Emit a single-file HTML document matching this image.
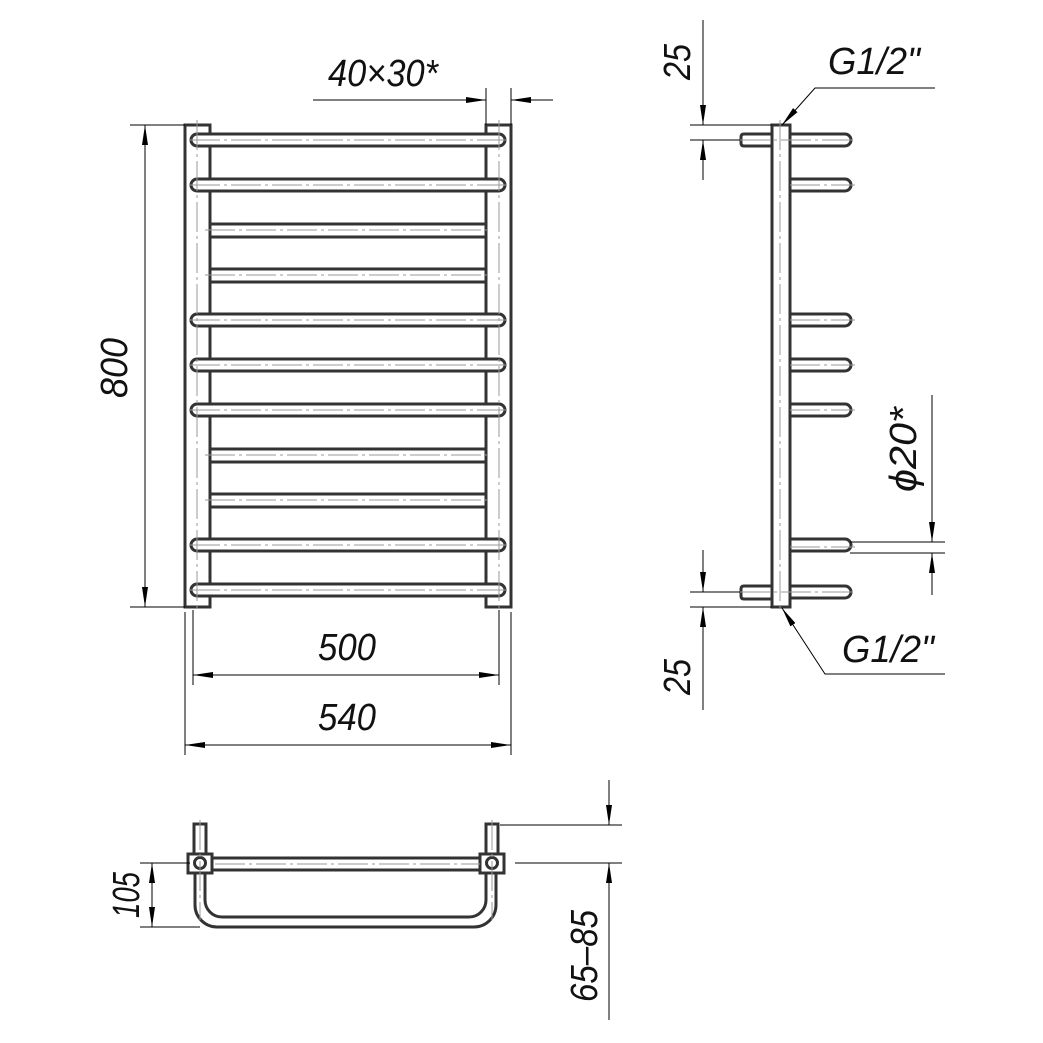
<!DOCTYPE html>
<html><head><meta charset="utf-8"><style>
html,body{margin:0;padding:0;background:#fff}
svg{display:block}
text{font-family:"Liberation Sans",sans-serif;font-style:italic;fill:#111}
</style></head><body>
<svg width="1043" height="1043" viewBox="0 0 1043 1043" xmlns="http://www.w3.org/2000/svg">
<defs>
<marker id="a" viewBox="0 0 20 8" refX="20" refY="4" markerWidth="20" markerHeight="8" markerUnits="userSpaceOnUse" orient="auto-start-reverse"><path d="M0,1 L20,4 L0,7 Z" fill="#000"/></marker>
</defs>
<g fill="none" stroke="#333" stroke-width="3">
<rect x="185" y="125" width="25" height="482"/>
<rect x="486" y="125" width="25" height="482"/>
<g id="fr">
<path d="M197,134 H499 A6,6 0 0 1 499,146 H197 A6,6 0 0 1 197,134 Z" fill="#fff"/>
</g>
<use href="#fr" y="45"/><use href="#fr" y="180"/><use href="#fr" y="225"/><use href="#fr" y="270"/><use href="#fr" y="405"/><use href="#fr" y="450"/>
<path d="M210,224 H486 M210,237 H486 M210,269 H486 M210,282 H486 M210,449 H486 M210,462 H486 M210,494 H486 M210,507 H486"/>
<rect x="772" y="125" width="18" height="482"/>
<path d="M772,134 H744 Q741,134 741,137 V143 Q741,146 744,146 H772 M772,586 H744 Q741,586 741,589 V596 Q741,599 744,599 H772"/>
<g id="sr"><path d="M790,134 H845 A6,6 0 0 1 845,146 H790"/></g>
<use href="#sr" y="45"/><use href="#sr" y="180"/><use href="#sr" y="225"/><use href="#sr" y="270"/><use href="#sr" y="405"/><use href="#sr" y="452"/>
<path d="M194,854 V824 H206 V854 M486,854 V824 H498 V854"/>
<path d="M212,858 H480 M212,870 H480"/>
<rect x="188" y="854" width="24" height="19"/>
<rect x="480" y="854" width="24" height="19"/>
<circle cx="200" cy="863" r="5.5"/>
<circle cx="492" cy="863" r="5.5"/>
<path d="M195,873 V905 A22,22 0 0 0 217,927 H474 A22,22 0 0 0 496,905 V873"/>
<path d="M205,873 V900 A17,17 0 0 0 222,917 H469 A17,17 0 0 0 486,900 V873"/>
</g>
<g stroke="#999" stroke-width="1" fill="none" stroke-dasharray="30,4,3,4">
<path d="M190,140 H506 M190,185 H506 M205,230 H490 M205,275 H490 M190,320 H506 M190,365 H506 M190,410 H506 M205,455 H490 M205,500 H490 M190,545 H506 M190,590 H506"/>
<path d="M197,120 V612 M499,120 V612 M780,120 V612"/>
<path d="M740,140 H855 M740,592 H855 M790,185 H855 M790,320 H855 M790,365 H855 M790,410 H855 M790,547 H855"/>
<path d="M215,864 H480 M200,820 V920 M492,820 V920"/>
</g>
<g stroke="#000" stroke-width="1" fill="none">
<path d="M130,125 H185 M130,607 H185"/>
<path d="M145,125 V607" marker-start="url(#a)" marker-end="url(#a)"/>
<path d="M193,610 V685 M499,610 V685 M185,612 V755 M511,612 V755"/>
<path d="M193,675 H499" marker-start="url(#a)" marker-end="url(#a)"/>
<path d="M185,745 H511" marker-start="url(#a)" marker-end="url(#a)"/>
<path d="M486,88 V125 M511,88 V125"/>
<path d="M313,100 H486" marker-end="url(#a)"/>
<path d="M553,100 H511" marker-end="url(#a)"/>
<path d="M690,125 H772 M690,140 H740"/>
<path d="M703,20 V125" marker-end="url(#a)"/>
<path d="M703,180 V140" marker-end="url(#a)"/>
<path d="M690,592 H740 M690,607 H772"/>
<path d="M703,550 V592" marker-end="url(#a)"/>
<path d="M703,710 V607" marker-end="url(#a)"/>
<path d="M935,88 H815 L782,125" marker-end="url(#a)"/>
<path d="M945,674 H825 L782,608" marker-end="url(#a)"/>
<path d="M850,542 H945 M850,553 H945"/>
<path d="M932,395 V542" marker-end="url(#a)"/>
<path d="M932,595 V553" marker-end="url(#a)"/>
<path d="M140,863 H190 M140,927 H200"/>
<path d="M152,863 V927" marker-start="url(#a)" marker-end="url(#a)"/>
<path d="M500,825 H622 M515,863 H622"/>
<path d="M609,780 V825" marker-end="url(#a)"/>
<path d="M609,1020 V863" marker-end="url(#a)"/>
</g>
<g font-size="38">
<text x="328" y="86" textLength="110" lengthAdjust="spacingAndGlyphs">40×30*</text>
<text x="0" y="0" transform="translate(127,398) rotate(-90)" textLength="60" lengthAdjust="spacingAndGlyphs">800</text>
<text x="318" y="660" textLength="58" lengthAdjust="spacingAndGlyphs">500</text>
<text x="318" y="730" textLength="58" lengthAdjust="spacingAndGlyphs">540</text>
<text x="0" y="0" transform="translate(690,80) rotate(-90)" textLength="36" lengthAdjust="spacingAndGlyphs">25</text>
<text x="0" y="0" transform="translate(690,695) rotate(-90)" textLength="36" lengthAdjust="spacingAndGlyphs">25</text>
<text x="828" y="74" textLength="92" lengthAdjust="spacingAndGlyphs">G1/2"</text>
<text x="842" y="662" textLength="92" lengthAdjust="spacingAndGlyphs">G1/2"</text>
<text x="0" y="0" transform="translate(916,492) rotate(-90)" textLength="85" lengthAdjust="spacingAndGlyphs">ϕ20*</text>
<text x="0" y="0" transform="translate(139,918) rotate(-90)" textLength="46" lengthAdjust="spacingAndGlyphs">105</text>
<text x="0" y="0" transform="translate(597,1002) rotate(-90)" textLength="92" lengthAdjust="spacingAndGlyphs">65–85</text>
</g>
</svg>
</body></html>
